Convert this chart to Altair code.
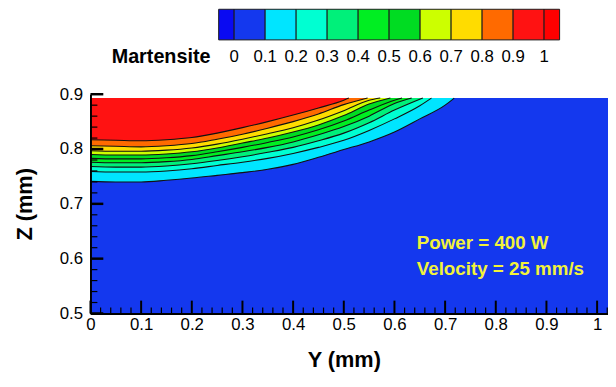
import altair as alt
import pandas as pd

FONT = "Liberation Sans"

# ---- data ----
Y_GRID = [0.0, 0.05, 0.1, 0.15, 0.2, 0.25, 0.3, 0.35, 0.4, 0.45, 0.5, 0.55, 0.6, 0.65, 0.7]
LEVELS = [0.1, 0.2, 0.3, 0.4, 0.5, 0.6, 0.7, 0.8, 0.9]
C10 = [0.741, 0.740, 0.740, 0.743, 0.747, 0.752, 0.757, 0.763, 0.772, 0.785, 0.799, 0.813, 0.831, 0.855, 0.880]
C20 = [0.759, 0.758, 0.758, 0.760, 0.764, 0.770, 0.776, 0.783, 0.792, 0.803, 0.816, 0.834, 0.855, 0.879]
C30 = [0.768, 0.767, 0.767, 0.769, 0.773, 0.779, 0.786, 0.794, 0.803, 0.815, 0.829, 0.848, 0.871]
C40 = [0.776, 0.775, 0.775, 0.777, 0.781, 0.788, 0.795, 0.803, 0.813, 0.826, 0.841, 0.860, 0.883]
C50 = [0.783, 0.782, 0.782, 0.784, 0.788, 0.795, 0.803, 0.812, 0.822, 0.835, 0.851, 0.871, 0.889]
C60 = [0.790, 0.789, 0.789, 0.791, 0.795, 0.802, 0.811, 0.820, 0.831, 0.844, 0.861, 0.882]
C70 = [0.797, 0.796, 0.796, 0.798, 0.802, 0.809, 0.818, 0.828, 0.839, 0.853, 0.870, 0.889]
C80 = [0.806, 0.805, 0.804, 0.806, 0.810, 0.818, 0.827, 0.838, 0.850, 0.864, 0.881]
C90 = [0.817, 0.816, 0.815, 0.817, 0.821, 0.829, 0.839, 0.850, 0.862, 0.875, 0.889]
CONTOURS = [C10, C20, C30, C40, C50, C60, C70, C80, C90]
EXIT_Y = [0.718, 0.673, 0.656, 0.634, 0.615, 0.592, 0.572, 0.547, 0.51]
FIELD_TOP = 0.893
FIELD_RIGHT = 1.0215

CB_LO = [-0.05, 0.0, 0.1, 0.2, 0.3, 0.4, 0.5, 0.6, 0.7, 0.8, 0.9, 1.0]
CB_HI = [0.0, 0.1, 0.2, 0.3, 0.4, 0.5, 0.6, 0.7, 0.8, 0.9, 1.0, 1.05]
CB_COLORS = ["#0a0af2", "#1438ee", "#00e5ff", "#00ffd2", "#00f07a", "#00ee22",
             "#00dc22", "#ccff00", "#ffdc00", "#ff6a00", "#ff1212", "#ff0000"]
CB_LABEL_VALUES = [0, 0.1, 0.2, 0.3, 0.4, 0.5, 0.6, 0.7, 0.8, 0.9, 1.0]
CB_LABELS = ["0", "0.1", "0.2", "0.3", "0.4", "0.5", "0.6", "0.7", "0.8", "0.9", "1"]

X_MAJOR = [0, 0.1, 0.2, 0.3, 0.4, 0.5, 0.6, 0.7, 0.8, 0.9, 1.0]
Z_MAJOR = [0.5, 0.6, 0.7, 0.8, 0.9]
X_MINOR = [round(m + k * 0.02, 2) for m in X_MAJOR[:-1] for k in (1, 2, 3, 4)] + [1.02]
Z_MINOR = [round(m + k * 0.02, 2) for m in Z_MAJOR[:-1] for k in (1, 2, 3, 4)]

ANNOT_Y = [0.644, 0.644]
ANNOT_Z = [0.628, 0.581]
ANNOT_TEXT = ["Power = 400 W", "Velocity = 25 mm/s"]

W, H = 524, 222

xs = alt.Scale(domain=[0, FIELD_RIGHT], nice=False, zero=False)
ys = alt.Scale(domain=[0.5, 0.9], nice=False, zero=False)

xaxis = alt.Axis(values=X_MAJOR, format="~g", ticks=False, grid=False,
                 domainColor="black", domainWidth=2, labelFont=FONT, labelFontSize=17,
                 labelColor="black", labelPadding=3, labelFlush=False, labelOverlap=False,
                 title="Y (mm)", titleFont=FONT, titleFontSize=22, titleFontWeight="bold",
                 titleColor="black", titleX=256.5, titleY=47, titleBaseline="middle",
                 titleAlign="center", zindex=1)
yaxis = alt.Axis(values=Z_MAJOR, format="~g", ticks=False, grid=False,
                 domainColor="black", domainWidth=2, labelFont=FONT, labelFontSize=17,
                 labelColor="black", labelPadding=8, labelFlush=False, labelOverlap=False,
                 title="Z (mm)", titleFont=FONT, titleFontSize=22, titleFontWeight="bold",
                 titleColor="black", titleX=-66.5, titleY=H / 2, titleAngle=270,
                 titleBaseline="middle", titleAlign="center", zindex=1)

X = alt.X("Y:Q", scale=xs, axis=xaxis)
Y = alt.Y("Z:Q", scale=ys, axis=yaxis)

# background field (0-0.1 band)
bg = alt.Chart(pd.DataFrame({"Y": [0.0], "Y2": [FIELD_RIGHT], "Z": [0.5], "Z2": [FIELD_TOP]})).mark_rect(
    color=CB_COLORS[1]).encode(x=X, x2="Y2", y=Y, y2="Z2")

areas = []
line_rows = []
for i, (lev, zs, ex) in enumerate(zip(LEVELS, CONTOURS, EXIT_Y)):
    rows = [{"Y": Y_GRID[j], "Z": z, "level": lev} for j, z in enumerate(zs)]
    rows.append({"Y": ex, "Z": FIELD_TOP, "level": lev})
    line_rows += rows
    areas.append(
        alt.Chart(pd.DataFrame(rows)).mark_area(color=CB_COLORS[i + 2], interpolate="monotone")
        .encode(x=X, y=Y, y2=alt.datum(FIELD_TOP))
    )

lines = alt.Chart(pd.DataFrame(line_rows)).mark_line(
    color="#111111", strokeWidth=1.1, interpolate="monotone").encode(
    x=X, y=Y, detail="level:N")

zmaj = alt.Chart(pd.DataFrame({"Z": Z_MAJOR})).mark_rule(color="black", strokeWidth=2.5).encode(
    x=alt.value(0), x2=alt.value(13), y=Y)
zmin = alt.Chart(pd.DataFrame({"Z": Z_MINOR})).mark_rule(color="black", strokeWidth=1.2).encode(
    x=alt.value(0), x2=alt.value(7), y=Y)
xmaj = alt.Chart(pd.DataFrame({"Y": X_MAJOR})).mark_rule(color="black", strokeWidth=2).encode(
    x=X, y=alt.value(H), y2=alt.value(H - 13))
xmin = alt.Chart(pd.DataFrame({"Y": X_MINOR})).mark_rule(color="black", strokeWidth=1.2).encode(
    x=X, y=alt.value(H), y2=alt.value(H - 6))

annot = alt.Chart(pd.DataFrame({"Y": ANNOT_Y, "Z": ANNOT_Z, "t": ANNOT_TEXT})).mark_text(
    align="left", baseline="middle", font=FONT, fontSize=19, fontWeight="bold", color="#f2f23a"
).encode(x=X, y=Y, text="t:N")

main = alt.layer(bg, *areas, lines, zmaj, zmin, xmaj, xmin, annot)

# colour bar
cbs = alt.Scale(domain=[-0.05, 1.05], range=[129.8, 475.0], nice=False, zero=False)
cb_rect = alt.Chart(pd.DataFrame({"lo": CB_LO, "hi": CB_HI, "c": CB_COLORS})).mark_rect(
    stroke="#1a1a1a", strokeWidth=1).encode(
    x=alt.X("lo:Q", scale=cbs, axis=None), x2="hi:Q",
    y=alt.value(-86), y2=alt.value(-55), color=alt.Color("c:N", scale=None, legend=None))
cb_text = alt.Chart(pd.DataFrame({"lo": CB_LABEL_VALUES, "t": CB_LABELS})).mark_text(
    font=FONT, fontSize=17, color="black", baseline="middle", align="center").encode(
    x=alt.X("lo:Q", scale=cbs, axis=None), y=alt.value(-38), text="t:N")
cb_title = alt.Chart(pd.DataFrame({"t": ["Martensite"]})).mark_text(
    font=FONT, fontSize=20, fontWeight="bold", color="black", align="right", baseline="middle"
).encode(x=alt.value(121.5), y=alt.value(-38), text="t:N")
cb = alt.layer(cb_rect, cb_text, cb_title)

chart = alt.layer(main, cb).resolve_scale(x="independent", y="independent", color="independent").properties(
    width=W, height=H,
    padding={"left": 83.5, "top": 85, "right": 0, "bottom": 60},
    autosize=alt.AutoSizeParams(type="none"),
).configure_view(strokeWidth=0)

chart.save("out.html", embed_options={"renderer": "svg", "actions": False})
